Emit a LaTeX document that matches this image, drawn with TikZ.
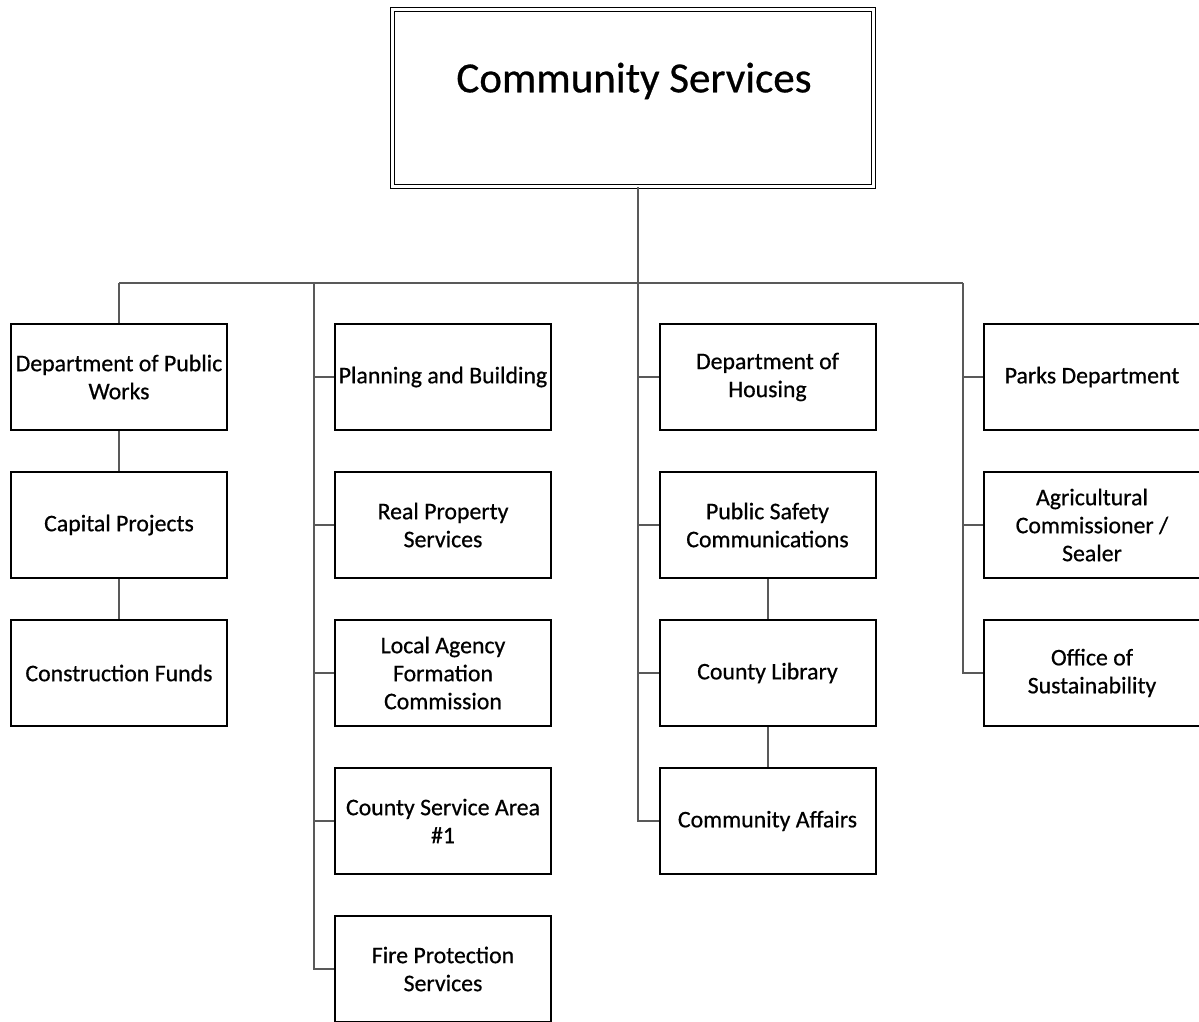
\documentclass[tikz,border=0pt]{standalone}
\usepackage{fontspec}
\setmainfont{Carlito}
\newfontfamily\boxfont{Carlito}[FakeBold=0.6]
\begin{document}
\begin{tikzpicture}[x=0.5pt,y=-0.5pt,
  box/.style={draw=black, line width=1pt, minimum width=108pt, minimum height=53pt,
    align=center, inner sep=0pt, font=\boxfont\fontsize{11.9}{14}\selectfont, fill=white},
  conn/.style={draw=black!65, line width=1pt},
  topbox/.style={draw=black, double, double distance=1.6pt, line width=0.6pt,
    minimum width=240.5pt, minimum height=88.5pt, inner sep=0pt}]
\useasboundingbox (0,0) rectangle (1199,1022);
\fill[white] (0,0) rectangle (1199,1022);

% top
\node[topbox] (top) at (633,98) {};
\node[font=\boxfont\fontsize{21.5}{26}\selectfont] (title) at (634,81) {Community Services};

% bus
\coordinate (bL) at (119,283);
\coordinate (bR) at (963,283);
\coordinate (t2) at (314,283);
\coordinate (t3) at (638,283);
\coordinate (t4) at (963,283);

% column 1
\node[box] (pw) at (119,377) {Department of Public\\Works};
\node[box] (cp) at (119,525) {Capital Projects};
\node[box] (cf) at (119,673) {Construction Funds};

% column 2
\node[box] (pb) at (443,377) {Planning and Building};
\node[box] (rp) at (443,525) {Real Property\\Services};
\node[box] (la) at (443,673) {Local Agency\\Formation\\Commission};
\node[box] (cs) at (443,821) {County Service Area\\\#1};
\node[box] (fp) at (443,969) {Fire Protection\\Services};

% column 3
\node[box] (dh) at (767.5,377) {Department of\\Housing};
\node[box] (ps) at (767.5,525) {Public Safety\\Communications};
\node[box] (cl) at (767.5,673) {County Library};
\node[box] (ca) at (767.5,821) {Community Affairs};

% column 4
\node[box] (pd) at (1092,377) {Parks Department};
\node[box] (ag) at (1092,525) {Agricultural\\Commissioner /\\Sealer};
\node[box] (os) at (1092,673) {Office of\\Sustainability};

% connectors
\draw[conn] (top.south -| t3) -- (t3);
\draw[conn] (bL) -- (bR);
\draw[conn] (bL) -- (pw.north);
\draw[conn] (pw) -- (cp);
\draw[conn] (cp) -- (cf);

\draw[conn] (t2) |- (fp.west);
\foreach \n in {pb,rp,la,cs} \draw[conn] (t2 |- \n.west) -- (\n.west);

\draw[conn] (t3) |- (ca.west);
\foreach \n in {dh,ps,cl} \draw[conn] (t3 |- \n.west) -- (\n.west);
\draw[conn] (ps) -- (cl);
\draw[conn] (cl) -- (ca);

\draw[conn] (t4) |- (os.west);
\foreach \n in {pd,ag} \draw[conn] (t4 |- \n.west) -- (\n.west);
\end{tikzpicture}
\end{document}
